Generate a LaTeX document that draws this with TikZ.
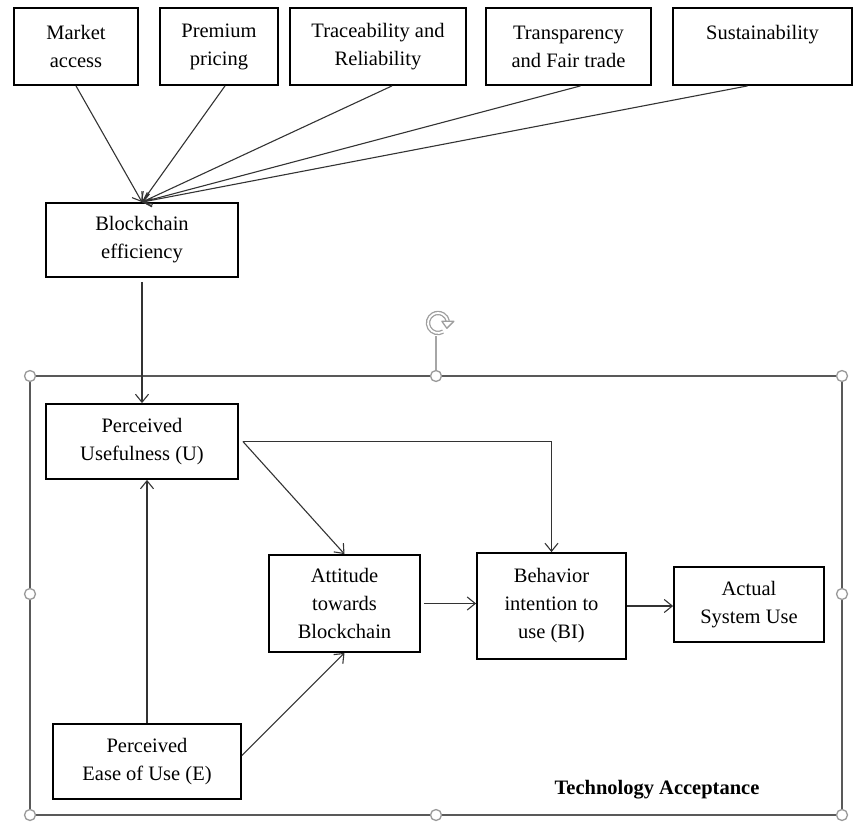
\documentclass[tikz,border=0pt]{standalone}
\usepackage{fontspec}
\setmainfont{Liberation Serif}
\usetikzlibrary{arrows.meta,calc}
\begin{document}
\begin{tikzpicture}[x=1pt,y=-1pt,
  box/.style={draw=black, line width=1.8pt, rectangle, align=center, inner sep=0pt,
    font=\fontsize{20.5}{28}\selectfont},
  conn/.style={draw=black!80, line width=1.1pt, -{Straight Barb[length=8pt,width=13pt]}},
  frameline/.style={draw=black!65, line width=1.8pt},
  handle/.style={circle, draw=black!40, fill=white, line width=1.3pt, minimum size=11pt, inner sep=0pt},
  roticon/.style={draw=black!38, line width=1.3pt, double=white, double distance=1.8pt},
  lbl/.style={font=\fontsize{20.5}{28}\selectfont\bfseries}]
\useasboundingbox (0,0) rectangle (861,827);
% selection frame
\coordinate (f1) at (30,376);
\coordinate (f2) at (842,376);
\coordinate (f3) at (842,815);
\coordinate (f4) at (30,815);
\draw[frameline] (f1) -- (f2) -- (f3) -- (f4) -- cycle;
% rotation handle
\coordinate (rotc) at (438,323);
\draw[black!35, line width=1.2pt] (436,336) -- (436,376);
\draw[roticon] ($(rotc)+(60:10)$) arc[start angle=60, end angle=350, radius=10];
\coordinate (rote) at ($(rotc)+(350:10)$);
\draw[black!38, fill=white, line width=1.3pt, line join=round]
  ($(rote)+(-6,0)$) -- ($(rote)+(6,0)$) -- ($(rote)+(-1,7)$) -- cycle;
\foreach \p in {(30,376),(436,376),(842,376),(30,594),(842,594),(30,815),(436,815),(842,815)}
  \node[handle] at \p {};
% top boxes
\node[box, minimum width=124, minimum height=77] (ma) at (76,46.5) {Market\\access};
\node[box, minimum width=118, minimum height=77] (pp) at (219,46.5) {Premium\\pricing};
\node[box, minimum width=176, minimum height=77] (tr) at (378,46.5) {Traceability and\\Reliability};
\node[box, minimum width=165, minimum height=77] (tp) at (568.5,46.5) {Transparency\\and Fair trade};
\node[box, minimum width=179, minimum height=77] (su) at (762.5,46.5) {Sustainability\\\mbox{}};
\node[box, minimum width=192, minimum height=74] (be) at (142,240) {Blockchain\\efficiency};
% TAM boxes
\node[box, minimum width=192, minimum height=75] (pu) at (142,441.5) {Perceived\\Usefulness (U)};
\node[box, minimum width=151, minimum height=97] (att) at (344.5,603.5) {Attitude\\towards\\Blockchain};
\node[box, minimum width=149, minimum height=106] (bi) at (551.5,606) {Behavior\\intention to\\use (BI)};
\node[box, minimum width=150, minimum height=75] (act) at (749,604.5) {Actual\\System Use};
\node[box, minimum width=188, minimum height=75] (pe) at (147,761.5) {Perceived\\Ease of Use (E)};
\node[lbl] (ta) at (657,790) {Technology Acceptance};
% connectors
\draw[conn] (ma.south) -- (be.north);
\draw[conn] ([xshift=6]pp.south) -- (be.north);
\draw[conn] ([xshift=14]tr.south) -- (be.north);
\draw[conn] ([xshift=12]tp.south) -- (be.north);
\draw[conn] ([xshift=-15]su.south) -- (be.north);
\draw[conn] ([yshift=-4]be.south) -- (pu.north);
\draw[conn] ([xshift=4]pu.east) -- (att.north);
\draw[conn] ([xshift=4]pu.east) -| (bi.north);
\draw[conn] (pe.north) -- (pe.north |- pu.south);
\draw[conn] ([yshift=6]pe.east) -- (att.south);
\draw[conn] ([xshift=3]att.east) -- (att.east -| bi.west);
\draw[conn] (bi.east) -- (bi.east -| act.west);
\end{tikzpicture}
\end{document}
